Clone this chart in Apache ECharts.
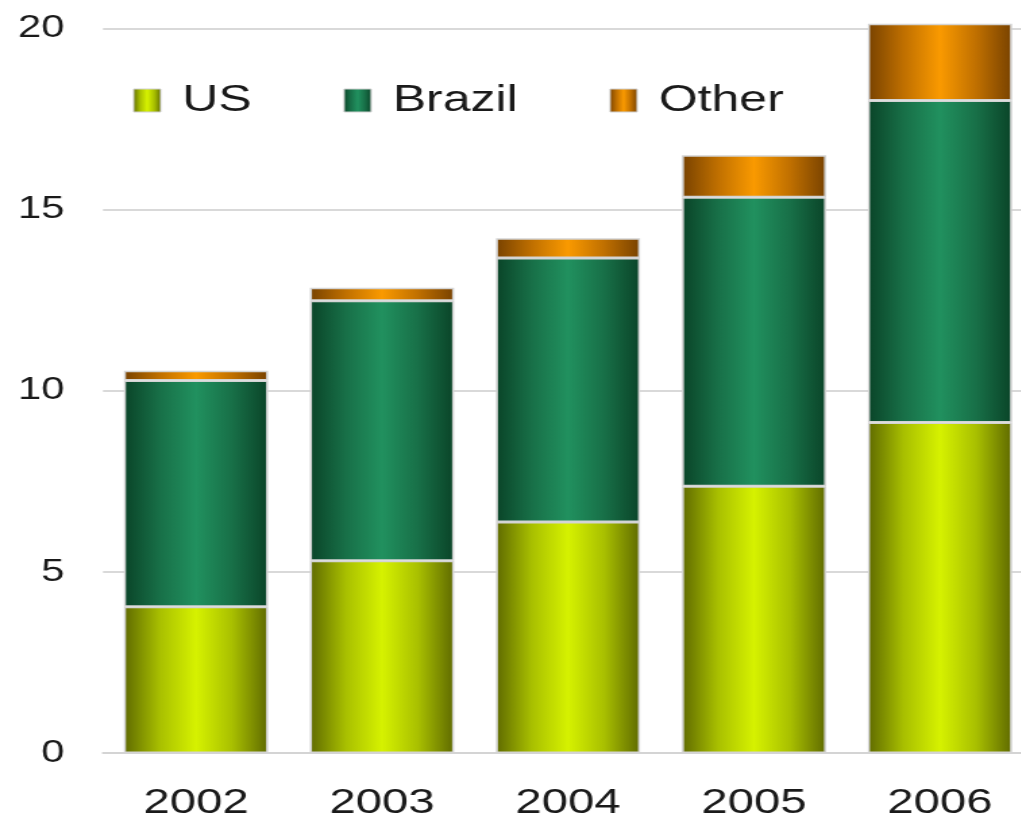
<!DOCTYPE html>
<html>
<head>
<meta charset="utf-8">
<script src="https://cdn.jsdelivr.net/npm/echarts@6/dist/echarts.min.js"></script>
<style>
html,body{margin:0;padding:0;background:#fff;overflow:hidden;width:1021px;height:821px;}
#chart{width:770px;height:831px;transform:translate(0,-10px) scaleX(1.35);transform-origin:0 0;}
</style>
</head>
<body>
<div id="chart"></div>
<script>
const categories = ['2002', '2003', '2004', '2005', '2006'];
const usValues = [4.04, 5.31, 6.38, 7.37, 9.13];
const brazilValues = [6.25, 7.18, 7.29, 7.98, 8.89];
const otherValues = [0.27, 0.36, 0.55, 1.16, 2.12];
const yTicks = [0, 5, 10, 15, 20];

function grad(dark, mid, bright) {
  return new echarts.graphic.LinearGradient(0, 0, 1, 0, [
    {offset: 0, color: dark},
    {offset: 0.25, color: mid},
    {offset: 0.5, color: bright},
    {offset: 0.75, color: mid},
    {offset: 1, color: dark}
  ]);
}

const chart = echarts.init(document.getElementById('chart'));
const font = 'Liberation Sans';
const border = {borderColor: '#d4d4d4', borderWidth: 1.5};
const S = 1.35; // horizontal stretch of the reference
const DY = 10;  // vertical offset of the drawing

chart.setOption({
  animation: false,
  backgroundColor: '#ffffff',
  grid: {left: 103 / S, width: 930 / S, top: 29 + DY - 36.35, bottom: 64.5, containLabel: false},
  legend: {
    left: 133 / S, top: 82 + DY, padding: 0,
    itemWidth: 27 / S, itemHeight: 23, itemGap: 68,
    icon: 'rect',
    itemStyle: {borderColor: '#d0d0d0', borderWidth: 1},
    textStyle: {fontFamily: font, fontSize: 37, color: '#1a1a1a', padding: [0, 0, 0, 11]},
    data: ['US', 'Brazil', 'Other']
  },
  xAxis: {
    type: 'category',
    data: categories,
    axisLine: {lineStyle: {color: '#d4d4d4', width: 2}},
    axisTick: {show: false},
    axisLabel: {fontFamily: font, fontSize: 35, color: '#1a1a1a', margin: 33}
  },
  yAxis: {
    type: 'value',
    min: yTicks[0], max: 21, interval: 5,
    axisLine: {show: false},
    axisTick: {show: false},
    splitLine: {lineStyle: {color: '#d9d9d9', width: 2}},
    axisLabel: {
      fontFamily: font, fontSize: 31, color: '#1a1a1a', margin: 28.5,
      formatter: v => (yTicks.indexOf(v) >= 0 ? String(v) : '')
    }
  },
  series: [
    {
      name: 'US', type: 'bar', stack: 'a', barWidth: '77.5%',
      data: usValues,
      itemStyle: Object.assign({color: grad('#5f6a00', '#a9c000', '#d6f200')}, border)
    },
    {
      name: 'Brazil', type: 'bar', stack: 'a', barWidth: '77.5%',
      data: brazilValues,
      itemStyle: Object.assign({color: grad('#0a4428', '#187048', '#21915f')}, border)
    },
    {
      name: 'Other', type: 'bar', stack: 'a', barWidth: '77.5%',
      data: otherValues,
      itemStyle: Object.assign({color: grad('#784200', '#c07000', '#fa9a00')}, border)
    }
  ]
});
</script>
</body>
</html>
